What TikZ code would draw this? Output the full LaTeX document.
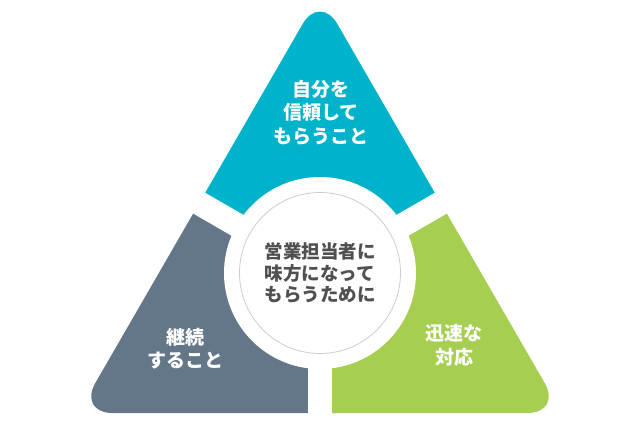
\documentclass[tikz,border=0pt]{standalone}
\usepackage{fontspec}
\setmainfont{Noto Sans CJK JP}
\definecolor{tcyan}{RGB}{0,178,202}
\definecolor{tgray}{RGB}{100,119,137}
\definecolor{tgreen}{RGB}{166,206,80}
\definecolor{ttext}{RGB}{80,80,80}
\definecolor{tring}{RGB}{205,205,205}
\begin{document}
\begin{tikzpicture}[x=1pt,y=-1pt,
  wlabel/.style={text=white,align=center,font=\bfseries\fontsize{19}{23.5}\selectfont,inner sep=0pt},
  clabel/.style={text=ttext,align=center,font=\bfseries\fontsize{18.5}{21.5}\selectfont,inner sep=0pt},
  gapline/.style={white,line width=24pt}]
\useasboundingbox (0,0) rectangle (640,425);
\fill[white] (0,0) rectangle (640,425);
\coordinate (C) at (320,273);
\coordinate (UL) at (-26,73);
\coordinate (UR) at (666,73);
\coordinate (DN) at (320,700);
% triangle pieces
\begin{scope}
  \clip (C) -- (UL) -- (-26,-200) -- (666,-200) -- (UR) -- cycle;
  \fill[tcyan,rounded corners=34.6pt] (320,-6) -- (562,413) -- (78,413) -- cycle;
\end{scope}
\begin{scope}
  \clip (C) -- (UL) -- (-26,700) -- (DN) -- cycle;
  \fill[tgray,rounded corners=34.6pt] (320,-6) -- (562,413) -- (78,413) -- cycle;
\end{scope}
\begin{scope}
  \clip (C) -- (UR) -- (666,700) -- (DN) -- cycle;
  \fill[tgreen,rounded corners=34.6pt] (320,-6) -- (562,413) -- (78,413) -- cycle;
\end{scope}
% gaps
\draw[gapline] (C) -- (UL);
\draw[gapline] (C) -- (UR);
\draw[gapline] (C) -- (DN);
\fill[white] (C) circle[radius=96];
\node[circle,draw=tring,line width=0.8pt,fill=white,minimum size=161pt,inner sep=0pt] (hub) at (C) {};
% labels
\node[wlabel] (top) at (321,112.5) {自分を\\信頼して\\もらうこと};
\node[wlabel] (left) at (185,348.5) {継続\\すること};
\node[wlabel] (right) at (454,345.5) {迅速な\\対応};
\node[clabel] (mid) at (320,273) {営業担当者に\\味方になって\\もらうために};
\end{tikzpicture}
\end{document}
